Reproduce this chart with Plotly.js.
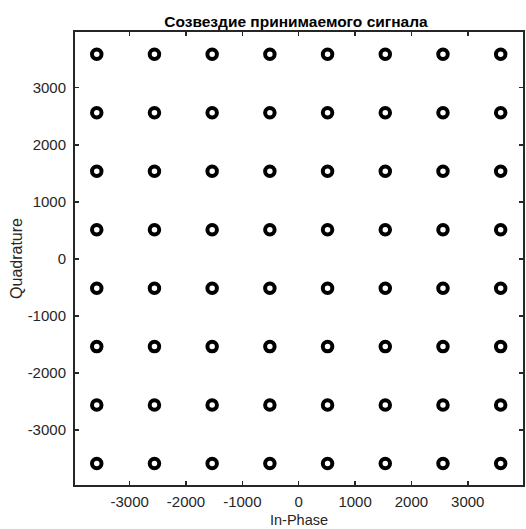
<!DOCTYPE html>
<html>
<head>
<meta charset="utf-8">
<script src="https://cdn.plot.ly/plotly-3.0.1.min.js"></script>
<style>html,body{margin:0;padding:0;background:#fff;}#chart{width:526px;height:529px;}</style>
</head>
<body>
<div id="chart"></div>
<script>
// Constellation levels (In-Phase and Quadrature), 64-QAM
var iLevels = [-3584, -2560, -1536, -512, 512, 1536, 2560, 3584];
var qLevels = [3584, 2560, 1536, 512, -512, -1536, -2560, -3584];
var xTicks = [-3000, -2000, -1000, 0, 1000, 2000, 3000];
var yTicks = [-3000, -2000, -1000, 0, 1000, 2000, 3000];

var xs = [], ys = [];
qLevels.forEach(function(q){ iLevels.forEach(function(i){ xs.push(i); ys.push(q); }); });

var trace = {
  x: xs, y: ys, type: 'scatter', mode: 'markers',
  marker: {symbol: 'circle-open', size: 9.5, color: '#000', line: {color: '#000', width: 4}},
  hoverinfo: 'none', cliponaxis: false
};

var FONT = 'Liberation Sans, Arial, sans-serif';
var axisCommon = {
  showline: true, linecolor: '#262626', linewidth: 2, mirror: 'allticks',
  ticks: 'inside', ticklen: 4, tickwidth: 1.5, tickcolor: '#262626',
  showgrid: false, zeroline: false,
  tickfont: {family: FONT, size: 15, color: '#262626'}
};

var layout = {
  width: 526, height: 529,
  margin: {l: 75, r: 3, t: 32, b: 44},
  paper_bgcolor: '#fff', plot_bgcolor: '#fff',
  showlegend: false,
  title: {text: '<b>Созвездие принимаемого сигнала</b>', x: 0.5627, xanchor: 'center', y: 0.960, yanchor: 'middle',
    font: {family: FONT, size: 15.5, color: '#000'}},
  xaxis: Object.assign({}, axisCommon, {
    range: [-3970, 3980], tickvals: xTicks, ticktext: xTicks.map(String),
    ticklabelstandoff: 2
  }),
  yaxis: Object.assign({}, axisCommon, {
    range: [-3960, 3975], tickvals: yTicks, ticktext: yTicks.map(String),
    ticklabelstandoff: 4,
    title: {text: 'Quadrature', standoff: 1, font: {family: FONT, size: 16, color: '#262626'}}
  }),
  annotations: [{
    text: 'In-Phase', xref: 'paper', yref: 'paper', x: 0.5, y: -0.078,
    xanchor: 'center', yanchor: 'middle', showarrow: false, borderpad: 0,
    font: {family: FONT, size: 14.5, color: '#262626'}
  }]
};

Plotly.newPlot('chart', [trace], layout, {displayModeBar: false, staticPlot: true});
</script>
</body>
</html>
